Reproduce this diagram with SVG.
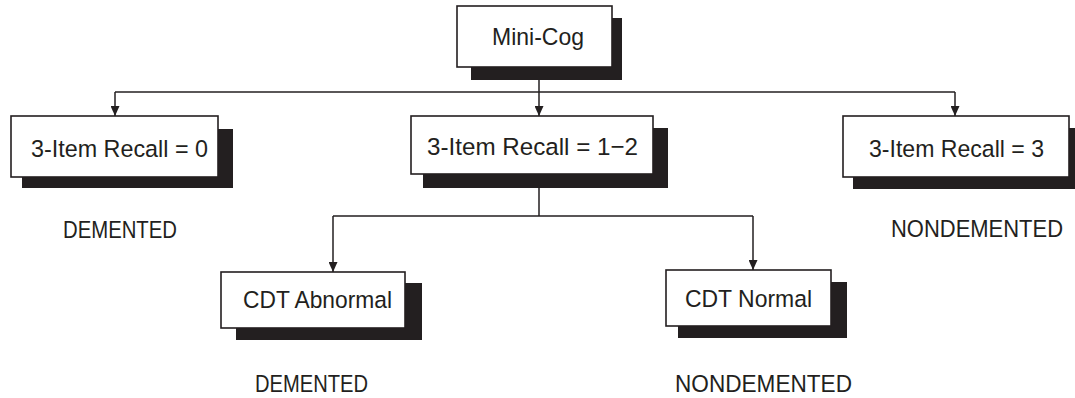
<svg xmlns="http://www.w3.org/2000/svg" width="1075" height="398" viewBox="0 0 1075 398">
  <style>
    .shadow { fill: #231f20; }
    .box { fill: #ffffff; stroke: #231f20; stroke-width: 1.6; }
    .label { font-family: "Liberation Sans", Arial, sans-serif; font-size: 24.5px; fill: #231f20; }
    .out { font-family: "Liberation Sans", Arial, sans-serif; font-size: 24px; fill: #231f20; }
    .wire { fill: none; stroke: #231f20; stroke-width: 1.5; }
    .arrow { fill: none; stroke: #231f20; stroke-width: 1.5; marker-end: url(#head); }
  </style>
  <defs>
    <marker id="head" markerUnits="userSpaceOnUse" markerWidth="10" markerHeight="9" viewBox="0 0 10 9" refX="10" refY="4.5" orient="auto">
      <path d="M0,0 L10,4.5 L0,9 Z" fill="#231f20"/>
    </marker>
  </defs>
  <rect width="1075" height="398" fill="#ffffff"/>

  <!-- connectors -->
  <g id="connectors">
    <path class="wire" d="M115,92 H955"/>
    <path class="wire" d="M539,174 V216 M333,216 H753"/>
    <path class="arrow" d="M539,67 V116"/>
    <path class="arrow" d="M115,92 V116"/>
    <path class="arrow" d="M955,92 V116"/>
    <path class="arrow" d="M333,216 V272"/>
    <path class="arrow" d="M753,216 V270"/>
  </g>

  <!-- root -->
  <g id="mini-cog">
    <rect class="shadow" x="471" y="18" width="151" height="62"/>
    <rect class="box" x="457" y="6" width="155" height="61"/>
    <text class="label" x="492" y="45" textLength="92" lengthAdjust="spacingAndGlyphs">Mini-Cog</text>
  </g>

  <g id="recall-0">
    <rect class="shadow" x="22" y="129" width="211" height="59"/>
    <rect class="box" x="11" y="116" width="207" height="61"/>
    <text class="label" x="31" y="157" textLength="177" lengthAdjust="spacingAndGlyphs">3-Item Recall = 0</text>
  </g>

  <g id="recall-1-2">
    <rect class="shadow" x="423" y="128" width="245" height="60"/>
    <rect class="box" x="411" y="116" width="242" height="58"/>
    <text class="label" x="427" y="155" textLength="211" lengthAdjust="spacingAndGlyphs">3-Item Recall = 1−2</text>
  </g>

  <g id="recall-3">
    <rect class="shadow" x="853" y="128" width="230" height="61"/>
    <rect class="box" x="843" y="116" width="226" height="61"/>
    <text class="label" x="869" y="157" textLength="175" lengthAdjust="spacingAndGlyphs">3-Item Recall = 3</text>
  </g>

  <g id="cdt-abnormal">
    <rect class="shadow" x="236" y="283" width="186" height="57"/>
    <rect class="box" x="221" y="272" width="184" height="56"/>
    <text class="label" x="243" y="308" textLength="149" lengthAdjust="spacingAndGlyphs">CDT Abnormal</text>
  </g>

  <g id="cdt-normal">
    <rect class="shadow" x="678" y="282" width="169" height="56"/>
    <rect class="box" x="666" y="270" width="165" height="56"/>
    <text class="label" x="685" y="307" textLength="127" lengthAdjust="spacingAndGlyphs">CDT Normal</text>
  </g>

  <!-- outcomes -->
  <g id="outcome-demented-1">
    <text class="out" x="63" y="238" textLength="114" lengthAdjust="spacingAndGlyphs">DEMENTED</text>
  </g>
  <g id="outcome-nondemented-1">
    <text class="out" x="891" y="237" font-size="21" textLength="172" lengthAdjust="spacingAndGlyphs">NONDEMENTED</text>
  </g>
  <g id="outcome-demented-2">
    <text class="out" x="255" y="392" textLength="113" lengthAdjust="spacingAndGlyphs">DEMENTED</text>
  </g>
  <g id="outcome-nondemented-2">
    <text class="out" x="675" y="392" textLength="177" lengthAdjust="spacingAndGlyphs">NONDEMENTED</text>
  </g>
</svg>
